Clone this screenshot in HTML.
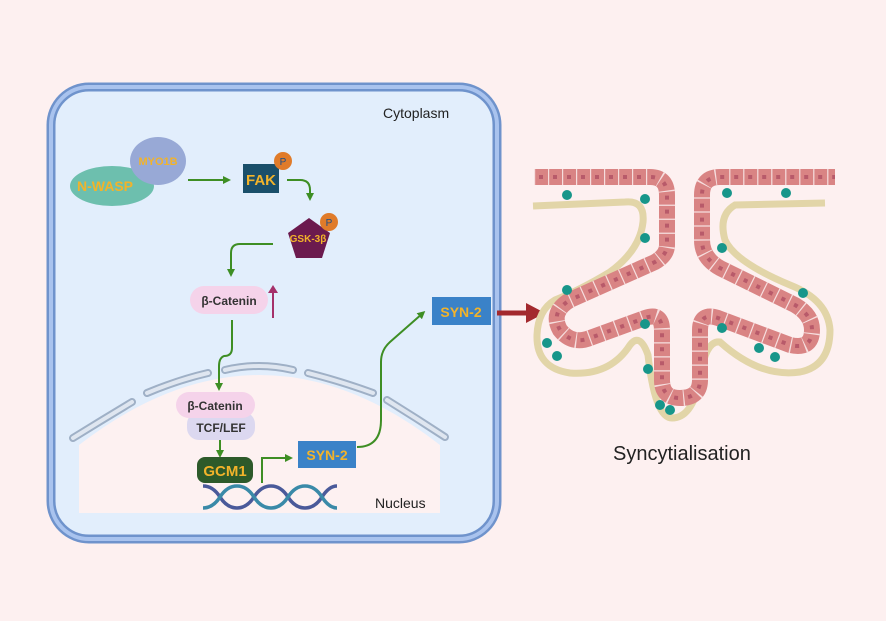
<!DOCTYPE html>
<html><head><meta charset="utf-8"><style>
body{margin:0;background:#fdf0f0;}
svg{display:block}
text{font-family:"Liberation Sans",sans-serif}
</style></head><body>
<svg width="886" height="621" viewBox="0 0 886 621" xmlns="http://www.w3.org/2000/svg">
<defs>
<marker id="g" markerWidth="8" markerHeight="8" refX="5" refY="4" orient="auto" markerUnits="userSpaceOnUse"><path d="M0,0 L8,4 L0,8 z" fill="#3e8e24"/></marker>
</defs>
<rect width="886" height="621" fill="#fdf0f0"/>
<!-- cell -->
<rect x="51" y="87" width="446" height="452" rx="38" fill="#e2eefc" stroke="#6f93cc" stroke-width="9"/>
<rect x="51" y="87" width="446" height="452" rx="38" fill="none" stroke="#a9c3ee" stroke-width="4"/>
<!-- nucleus -->
<path d="M79,513 L79,445 Q260,305 440,445 L440,513 Z" fill="#fdf1f1"/>
<g fill="none" stroke="#9fb0c6" stroke-width="8" stroke-linecap="round">
<path d="M73,438 Q102,420 132,402"/><path d="M147,393 Q178,380 208,373"/><path d="M225,370 Q259,362 293,370"/><path d="M308,373 Q340,381 373,393"/><path d="M387,400 Q416,418 445,437"/>
</g>
<g fill="none" stroke="#dfe6f0" stroke-width="4" stroke-linecap="round">
<path d="M73,438 Q102,420 132,402"/><path d="M147,393 Q178,380 208,373"/><path d="M225,370 Q259,362 293,370"/><path d="M308,373 Q340,381 373,393"/><path d="M387,400 Q416,418 445,437"/>
</g>
<text x="383" y="118" font-size="14" fill="#222">Cytoplasm</text>
<text x="375" y="508" font-size="14" fill="#222">Nucleus</text>
<!-- N-WASP / MYO1B -->
<ellipse cx="112" cy="186" rx="42" ry="20" fill="#6dbfae"/>
<ellipse cx="158" cy="161" rx="28" ry="24" fill="#98a9d6"/>
<text x="158" y="165" font-size="11" font-weight="bold" fill="#f2b32a" text-anchor="middle">MYO1B</text>
<text x="105" y="191" font-size="14" font-weight="bold" fill="#f2b32a" text-anchor="middle">N-WASP</text>
<line x1="188" y1="180" x2="228" y2="180" stroke="#3e8e24" stroke-width="2" marker-end="url(#g)"/>
<rect x="243" y="164" width="36" height="29" fill="#1a4f6a"/>
<text x="261" y="185" font-size="15" font-weight="bold" fill="#f2b32a" text-anchor="middle">FAK</text>
<circle cx="283" cy="161" r="9" fill="#e07b2a"/><text x="283" y="165" font-size="10" fill="#1a4f8a" text-anchor="middle">P</text>
<path d="M287,180 L300,180 Q310,180 310,190 L310,198" fill="none" stroke="#3e8e24" stroke-width="2" marker-end="url(#g)"/>
<polygon points="309,218 330,233 322,258 296,258 288,233" fill="#6b1a4e"/>
<text x="308" y="242" font-size="10" font-weight="bold" fill="#f2b32a" text-anchor="middle">GSK-3β</text>
<circle cx="329" cy="222" r="9" fill="#e07b2a"/><text x="329" y="226" font-size="10" fill="#1a4f8a" text-anchor="middle">P</text>
<path d="M273,244 L240,244 Q231,244 231,253 L231,274" fill="none" stroke="#3e8e24" stroke-width="2" marker-end="url(#g)"/>
<rect x="190" y="286" width="78" height="28" rx="14" fill="#f5d3ea"/>
<text x="229" y="305" font-size="12" font-weight="bold" fill="#333" text-anchor="middle">β-Catenin</text>
<line x1="273" y1="318" x2="273" y2="292" stroke="#a5306a" stroke-width="2"/><path d="M268,293 L273,285 L278,293z" fill="#a5306a"/>
<path d="M232,320 L232,348 Q232,356 224,356 Q219,358 219,366 L219,388" fill="none" stroke="#3e8e24" stroke-width="2" marker-end="url(#g)"/>
<rect x="187" y="412" width="68" height="28" rx="12" fill="#dcd8f0"/>
<rect x="176" y="392" width="79" height="26" rx="13" fill="#f5d3ea"/>
<text x="215" y="410" font-size="12" font-weight="bold" fill="#333" text-anchor="middle">β-Catenin</text>
<text x="221" y="432" font-size="12" font-weight="bold" fill="#333" text-anchor="middle">TCF/LEF</text>
<line x1="220" y1="440" x2="220" y2="455" stroke="#3e8e24" stroke-width="2" marker-end="url(#g)"/>
<!-- DNA -->
<g fill="none" stroke-width="3.5">
<path d="M203,486 Q213,486 220,497 Q227,508 237,508 Q247,508 254,497 Q261,486 271,486 Q281,486 288,497 Q295,508 305,508 Q315,508 322,497 Q329,486 337,486" stroke="#4a5a9a"/>
<path d="M203,508 Q213,508 220,497 Q227,486 237,486 Q247,486 254,497 Q261,508 271,508 Q281,508 288,497 Q295,486 305,486 Q315,486 322,497 Q329,508 337,508" stroke="#3a8aa8"/>
</g>
<rect x="197" y="457" width="56" height="26" rx="8" fill="#2d5a2a"/>
<text x="225" y="476" font-size="15" font-weight="bold" fill="#f2b32a" text-anchor="middle">GCM1</text>
<path d="M262,483 L262,458 L290,458" fill="none" stroke="#3e8e24" stroke-width="2" marker-end="url(#g)"/>
<rect x="298" y="441" width="58" height="27" fill="#3a82c8"/>
<text x="327" y="460" font-size="14" font-weight="bold" fill="#f2b32a" text-anchor="middle">SYN-2</text>
<path d="M357,447 Q381,447 381,420 L381,362 Q381,350 390,342 L423,313" fill="none" stroke="#3e8e24" stroke-width="2" marker-end="url(#g)"/>
<rect x="432" y="297" width="59" height="28" fill="#3a82c8"/>
<text x="461" y="317" font-size="14" font-weight="bold" fill="#f2b32a" text-anchor="middle">SYN-2</text>
<line x1="497" y1="313" x2="528" y2="313" stroke="#a3292e" stroke-width="5"/>
<path d="M526,303 L545,313 L526,323z" fill="#a3292e"/>
<!-- villi -->
<path d="M533,206 L625,202 Q645,200 643,222 Q640,250 610,272 Q580,290 555,300 Q538,310 537,335 Q536,368 570,373 Q610,376 630,345 Q640,332 648,355 Q655,418 672,418 Q692,418 700,380 Q705,340 720,342 Q760,378 800,372 Q830,366 830,330 Q828,300 790,285 Q735,262 725,240 Q718,215 735,205 L825,203" fill="none" stroke="#e2d5a8" stroke-width="7"/>
<path d="M534,177 L650,177 Q667,177 667,195 L667,245 Q667,255 655,262 L570,300 Q550,312 560,330 Q572,345 590,338 L645,318 Q662,312 662,330 L662,380 Q662,398 680,398 Q700,398 700,380 L700,330 Q700,312 718,318 L790,345 Q812,350 812,330 Q812,315 795,305 L720,268 Q702,258 702,240 L702,195 Q702,177 720,177 L835,177" fill="none" stroke="#d98484" stroke-width="16"/>
<path d="M534,177 L650,177 Q667,177 667,195 L667,245 Q667,255 655,262 L570,300 Q550,312 560,330 Q572,345 590,338 L645,318 Q662,312 662,330 L662,380 Q662,398 680,398 Q700,398 700,380 L700,330 Q700,312 718,318 L790,345 Q812,350 812,330 Q812,315 795,305 L720,268 Q702,258 702,240 L702,195 Q702,177 720,177 L835,177" fill="none" stroke="#f6dede" stroke-width="16" stroke-dasharray="1.2 12.8"/>
<path d="M534,177 L650,177 Q667,177 667,195 L667,245 Q667,255 655,262 L570,300 Q550,312 560,330 Q572,345 590,338 L645,318 Q662,312 662,330 L662,380 Q662,398 680,398 Q700,398 700,380 L700,330 Q700,312 718,318 L790,345 Q812,350 812,330 Q812,315 795,305 L720,268 Q702,258 702,240 L702,195 Q702,177 720,177 L835,177" fill="none" stroke="#b85a6a" stroke-width="4" stroke-dasharray="4 10" stroke-dashoffset="-5"/>
<g fill="#17968a">
<circle cx="567" cy="195" r="5"/><circle cx="645" cy="199" r="5"/><circle cx="645" cy="238" r="5"/><circle cx="567" cy="290" r="5"/><circle cx="547" cy="343" r="5"/><circle cx="557" cy="356" r="5"/><circle cx="645" cy="324" r="5"/><circle cx="648" cy="369" r="5"/><circle cx="660" cy="405" r="5"/><circle cx="670" cy="410" r="5"/><circle cx="727" cy="193" r="5"/><circle cx="786" cy="193" r="5"/><circle cx="722" cy="248" r="5"/><circle cx="803" cy="293" r="5"/><circle cx="722" cy="328" r="5"/><circle cx="759" cy="348" r="5"/><circle cx="775" cy="357" r="5"/>
</g>
<text x="613" y="460" font-size="20" fill="#222">Syncytialisation</text>
</svg>
</body></html>
